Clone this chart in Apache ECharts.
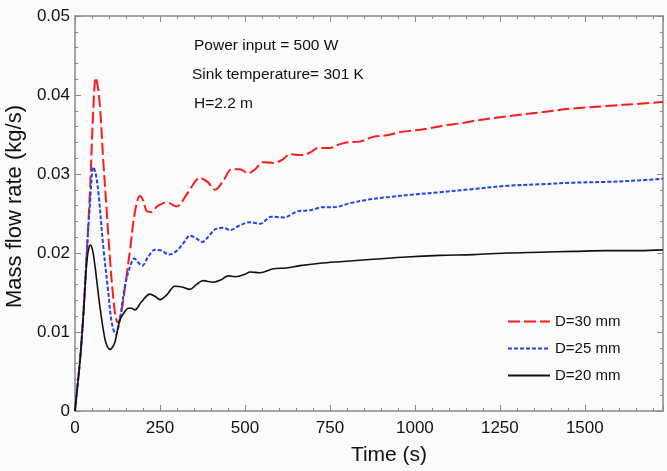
<!DOCTYPE html>
<html>
<head>
<meta charset="utf-8">
<script src="https://cdn.jsdelivr.net/npm/echarts@6/dist/echarts.min.js"></script>
<style>html,body{margin:0;padding:0;background:#fbfbfb;}#c{width:667px;height:471px;}</style>
</head>
<body>
<div id="c"></div>
<script>
var tRed = [0,5,15,25,34,44,54,61,68,74,83,93,103,113,120,127,134,142,152,162,176,191,200,211,222,245,270,299,330,368,390,412,437,461,485,510,530,554,583,610,632,671,695,715,750,775,799,838,877,917,956,995,1044,1093,1132,1172,1270,1368,1466,1564,1662,1730];
var yRed = [0,0.0022,0.0065,0.0125,0.0195,0.0278,0.0382,0.0422,0.0408,0.0382,0.0318,0.0255,0.0192,0.0141,0.0118,0.0112,0.0120,0.0141,0.0172,0.0204,0.0251,0.0272,0.0267,0.0253,0.0252,0.0260,0.0264,0.0259,0.0275,0.0295,0.0290,0.0280,0.0292,0.0306,0.0306,0.0301,0.0306,0.0315,0.0314,0.0318,0.0325,0.0324,0.0328,0.0333,0.0333,0.0337,0.0340,0.0341,0.0347,0.0349,0.0353,0.0355,0.0358,0.0362,0.0364,0.0367,0.0373,0.0378,0.0383,0.0386,0.0389,0.0391];

var tBlue = [0,5,15,25,34,44,54,61,69,83,98,108,120,132,147,162,175,186,198,215,235,255,276,300,320,338,356,374,395,412,436,456,485,515,544,578,613,657,691,730,760,809,868,926,995,1074,1172,1270,1368,1466,1564,1662,1730];
var yBlue = [0,0.0022,0.0065,0.0125,0.0195,0.0262,0.0309,0.0300,0.0276,0.0209,0.0150,0.0112,0.0097,0.0116,0.0158,0.0183,0.0193,0.0188,0.0184,0.0195,0.0204,0.0203,0.0198,0.0203,0.0213,0.0222,0.0219,0.0214,0.0222,0.0230,0.0232,0.0229,0.0235,0.0239,0.0237,0.0246,0.0245,0.0253,0.0254,0.0258,0.0258,0.0263,0.0268,0.0271,0.0274,0.0277,0.0281,0.0285,0.0287,0.0289,0.0290,0.0292,0.0294];

var tBlack = [0,5,15,25,34,40,46,52,59,73,88,96,104,112,118,132,147,157,166,176,195,221,236,250,270,294,316,338,357,377,407,430,451,471,500,515,544,583,622,662,721,779,877,975,1074,1172,1270,1368,1466,1564,1662,1730];
var yBlack = [0,0.0022,0.0065,0.0124,0.0185,0.0205,0.0210,0.0203,0.0183,0.0133,0.0091,0.0081,0.0078,0.0082,0.0088,0.0115,0.0126,0.0130,0.0130,0.0128,0.0138,0.0148,0.0145,0.0141,0.0147,0.0158,0.0157,0.0154,0.0160,0.0165,0.0163,0.0166,0.0171,0.0170,0.0173,0.0176,0.0175,0.0180,0.0181,0.0184,0.0187,0.0189,0.0192,0.0195,0.0197,0.0198,0.0200,0.0201,0.0202,0.0203,0.0203,0.0204];

var seriesNames = ['D=30 mm','D=25 mm','D=20 mm'];
var notes = ['Power input = 500 W','Sink temperature= 301 K','H=2.2 m'];

function pairs(t, y){ return t.map(function(v,i){ return [v, y[i]]; }); }

var FONT = 'Liberation Sans, Arial, sans-serif';
var axisCol = '#8a8a8a';

function xAx(pos, showLabel){
  return {
    type:'value', position: pos, min:0, max:1730, interval:250,
    name: showLabel ? 'Time (s)' : '', nameLocation:'middle', nameGap:34,
    nameTextStyle:{fontSize:21, color:'#111', fontFamily:FONT, padding:[0,0,0,40]},
    axisLine:{show:true, onZero:false, lineStyle:{color:axisCol, width:1.5}},
    axisTick:{show:true, inside:true, length:6, lineStyle:{color:axisCol}},
    minorTick:{show:true, splitNumber:5, length:3, lineStyle:{color:axisCol}},
    splitLine:{show:false},
    axisLabel:{show:showLabel, fontSize:17, color:'#111', fontFamily:FONT, margin:9,
      formatter:function(v){ return (v % 250 === 0) ? String(v) : ''; }}
  };
}
function yAx(pos, showLabel){
  return {
    type:'value', position: pos, min:0, max:0.05, interval:0.01,
    name: showLabel ? 'Mass flow rate (kg/s)' : '', nameLocation:'middle', nameGap:41,
    nameTextStyle:{fontSize:22, color:'#111', fontFamily:FONT, padding:[0,0,0,14]},
    axisLine:{show:true, onZero:false, lineStyle:{color:axisCol, width:1.5}},
    axisTick:{show:true, inside:true, length:6, lineStyle:{color:axisCol}},
    minorTick:{show:true, splitNumber:5, length:3, lineStyle:{color:axisCol}},
    splitLine:{show:false},
    axisLabel:{show:showLabel, fontSize:17, color:'#111', fontFamily:FONT, margin:5,
      formatter:function(v){ return v === 0 ? '0' : v.toFixed(2); }}
  };
}

var noteFont = '15.5px Liberation Sans, Arial, sans-serif';
var chart = echarts.init(document.getElementById('c'), null, {renderer:'canvas'});
chart.setOption({
  backgroundColor:'#fbfbfb',
  animation:false,
  grid:{left:75, right:4, top:16, bottom:60, containLabel:false, outerBoundsMode:'none'},
  xAxis:[xAx('bottom', true), xAx('top', false)],
  yAxis:[yAx('left', true), yAx('right', false)],
  legend:{
    orient:'vertical', left:507, top:314, padding:0, itemWidth:42, itemHeight:14, itemGap:12,
    itemStyle:{opacity:0},
    textStyle:{fontSize:15, color:'#111', fontFamily:FONT},
    data:seriesNames
  },
  graphic:[
    {type:'text', left:194, top:38, style:{text:notes[0], fill:'#111', font:noteFont}},
    {type:'text', left:192, top:67, style:{text:notes[1], fill:'#111', font:noteFont}},
    {type:'text', left:194, top:96, style:{text:notes[2], fill:'#111', font:noteFont}}
  ],
  series:[
    {name:seriesNames[0], type:'line', data:pairs(tRed,yRed), smooth:0.35, showSymbol:false, symbol:'none',
      lineStyle:{color:'#ff1a1a', width:2, type:[12,4]}, itemStyle:{color:'#ff1a1a'}},
    {name:seriesNames[1], type:'line', data:pairs(tBlue,yBlue), smooth:0.35, showSymbol:false, symbol:'none',
      lineStyle:{color:'#1f45e6', width:2, type:[4,2]}, itemStyle:{color:'#1f45e6'}},
    {name:seriesNames[2], type:'line', data:pairs(tBlack,yBlack), smooth:0.35, showSymbol:false, symbol:'none',
      lineStyle:{color:'#111111', width:1.6, type:'solid'}, itemStyle:{color:'#111111'}}
  ]
});
</script>
</body>
</html>
